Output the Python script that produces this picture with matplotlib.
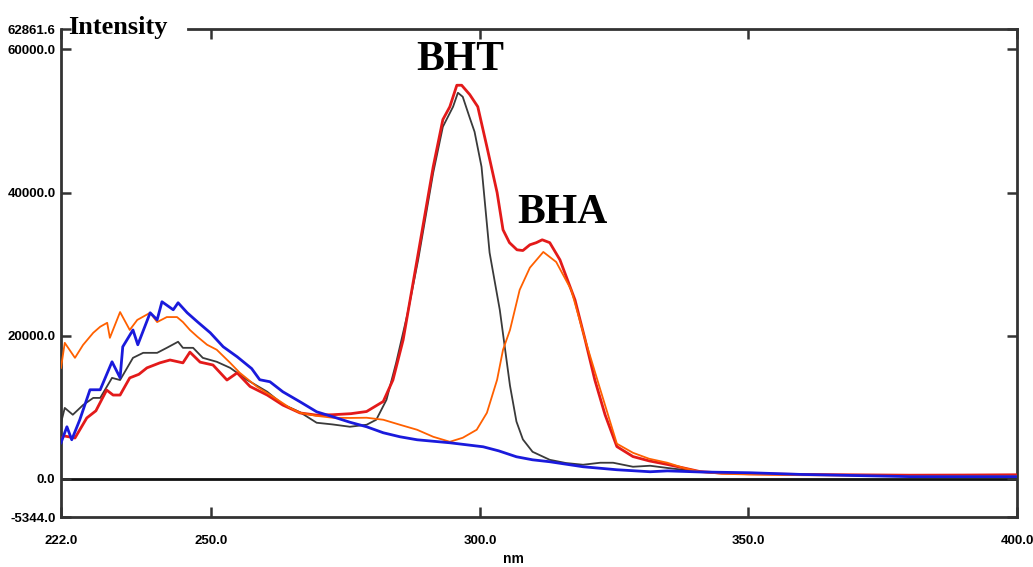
import matplotlib
matplotlib.use("Agg")
import matplotlib.pyplot as plt

# wavelength (nm) / intensity
red_x = [222, 222.5, 224.6, 226.8, 228.5, 230.5, 231.7, 233, 234.8, 236.5, 238, 240.4, 242.3,
         244.7, 246, 247.9, 250.3, 252.9, 254.8, 257.2, 260.4, 263.3, 266.5, 269.5, 272.6, 276,
         278.9, 282, 283.8, 285.7, 288.3, 291.3, 293.1, 294.4, 295.7, 296.6, 298.1, 299.6, 301.3,
         303.2, 304.3, 305.5, 306.9, 308, 309.3, 310.5, 311.6, 313, 314.9, 317.7, 319.6, 321.4,
         323.3, 325.5, 328.5, 331.5, 334.9, 338, 341, 345, 350.3, 360, 370, 380, 390, 400]
red_y = [5500, 6000, 5700, 8500, 9500, 12400, 11700, 11700, 14100, 14600, 15500, 16200, 16600,
         16200, 17700, 16300, 15900, 13800, 14800, 12900, 11700, 10300, 9200, 8900, 8950, 9100,
         9400, 10800, 13800, 19400, 30600, 43600, 50200, 52000, 55000, 55000, 53700, 52000, 46400,
         40000, 34800, 33000, 32000, 31900, 32700, 33000, 33400, 33000, 30600, 25000, 19400, 13800,
         8950, 4500, 3100, 2500, 2000, 1500, 1000, 800, 700, 600, 550, 500, 520, 560]

bht_x = [222, 222.7, 224.2, 226.1, 228, 229.3, 231.5, 233, 235.4, 237.3, 239.9, 241.7, 243.8,
         244.7, 246.6, 248.4, 251, 253.5, 256.6, 260.4, 263.3, 266.5, 269.6, 272.5, 275.8, 278.9,
         280.7, 282.6, 284.4, 286.5, 288.5, 291.3, 293.1, 295, 295.9, 296.8, 298.1, 299, 300.3,
         301.8, 303.7, 305.6, 306.8, 308, 309.8, 313, 316, 319.2, 322.4, 324.8, 328.5, 331.7, 335,
         341, 350, 360, 370, 380, 390, 400]
bht_y = [7800, 9900, 8950, 10300, 11300, 11300, 14100, 13800, 16900, 17600, 17600, 18300, 19150,
         18300, 18300, 16900, 16350, 15500, 13840, 12160, 10400, 9300, 7830, 7600, 7270, 7550,
         8250, 11040, 16200, 23000, 30600, 42770, 49200, 52000, 53950, 53390, 50460, 48500, 43600,
         31600, 23600, 13000, 8000, 5500, 3770, 2650, 2200, 1960, 2240, 2240, 1680, 1820, 1500,
         980, 700, 600, 500, 450, 400, 400]

bha_x = [222, 222.7, 224.6, 226.1, 228, 229.3, 230.6, 231.1, 233, 234.8, 236.2, 238.6, 239.9,
         241.7, 243.6, 244.7, 246, 247.4, 249.2, 251, 253.5, 255.3, 258.5, 261.5, 264.6, 266.5,
         269.5, 272.6, 275.8, 278.9, 282, 285.1, 288.3, 291.3, 294.4, 296.8, 299.4, 301.3, 303.2,
         304.3, 305.6, 307.4, 309.3, 311.8, 314.2, 317, 319.6, 322.4, 325.5, 328.5, 331.5, 334.9,
         338, 341, 345, 350, 360, 370, 380, 390, 400]
bha_y = [15500, 19000, 16900, 18700, 20400, 21250, 21800, 19700, 23300, 20800, 22200, 23200, 21900,
         22600, 22600, 21900, 20800, 19850, 18730, 18030, 16200, 14800, 12860, 11460, 9920, 9220,
         8800, 8530, 8500, 8530, 8250, 7550, 6850, 5870, 5170, 5730, 6850, 9220, 13840, 18030,
         20800, 26400, 29500, 31700, 30300, 26400, 19430, 12500, 4900, 3630, 2800, 2240, 1500,
         980, 700, 600, 500, 450, 400, 400, 400]

blank_x = [222, 223.1, 224, 225.5, 227.4, 229.3, 231.5, 233, 233.5, 235.4, 236.3, 238.6, 239.9,
           240.8, 242.9, 243.8, 245.5, 247.4, 249.8, 252.2, 254.8, 257.5, 259, 260.9, 263.3, 266.5,
           269.6, 272.6, 275.8, 278.9, 282, 285.1, 288.3, 294.4, 300.6, 303.5, 306.8, 309.8, 313,
           319.2, 325.5, 331.7, 334.9, 341, 350.3, 360, 370, 380, 390, 400]
blank_y = [5030, 7270, 5450, 8250, 12440, 12440, 16350, 14120, 18450, 20800, 18730, 23200, 22220,
           24740, 23620, 24600, 23200, 21940, 20400, 18450, 17050, 15400, 13840, 13560, 12160, 10760,
           9360, 8670, 7900, 7270, 6430, 5870, 5450, 5030, 4470, 3900, 3075, 2650, 2380, 1680, 1260,
           980, 1100, 950, 840, 600, 450, 300, 300, 300]

x_ticks = [222.0, 250.0, 300.0, 350.0, 400.0]
y_ticks = [-5344.0, 0.0, 20000.0, 40000.0, 60000.0, 62861.6]
x_min, x_max = 222.0, 400.0
y_min, y_max = -5344.0, 62861.6

fig = plt.figure(figsize=(10.33, 5.67), dpi=100)
ax = fig.add_axes([61 / 1033, 50 / 567, 956 / 1033, 488 / 567])

ax.axhline(0, color="#111111", lw=2, zorder=1)
ax.plot(bht_x, bht_y, color="#3a3a3a", lw=1.3, zorder=2)
ax.plot(red_x, red_y, color="#e31a1a", lw=2, zorder=3)
ax.plot(bha_x, bha_y, color="#ff6000", lw=1.3, zorder=4)
ax.plot(blank_x, blank_y, color="#1a1adc", lw=2, zorder=5)

ax.set_xlim(x_min, x_max)
ax.set_ylim(y_min, y_max)
ax.set_xticks(x_ticks)
ax.set_xticklabels(["%.1f" % v for v in x_ticks])
ax.set_yticks(y_ticks)
ax.set_yticklabels(["%.1f" % v for v in y_ticks])
ax.tick_params(direction="in", length=7, width=1.8, color="#333333",
               top=True, right=True, labelsize=9.5)
ax.tick_params(axis="x", pad=13)
ax.tick_params(axis="y", pad=4)
for lab in ax.get_xticklabels() + ax.get_yticklabels():
    lab.set_fontweight("bold")
    lab.set_family("Liberation Sans")

for s in ax.spines.values():
    s.set_linewidth(2)
    s.set_color("#333333")
ax.spines["top"].set_bounds(245.6, x_max)

ax.set_xlabel("nm", fontsize=10, fontweight="bold", family="Liberation Sans")
ax.xaxis.set_label_coords((513 - 61) / 956, -0.072)

ax.text(0.0075, 1.003, "Intensity", transform=ax.transAxes, fontsize=19,
        fontweight="bold", family="Liberation Serif", va="center", ha="left")
ax.text(296.3, 55500 + 400, "BHT", fontsize=30, fontweight="bold",
        family="Liberation Serif", ha="center", va="bottom")
ax.text(315.3, 34200 + 300, "BHA", fontsize=30, fontweight="bold",
        family="Liberation Serif", ha="center", va="bottom")

fig.savefig("out.png", dpi=100)
